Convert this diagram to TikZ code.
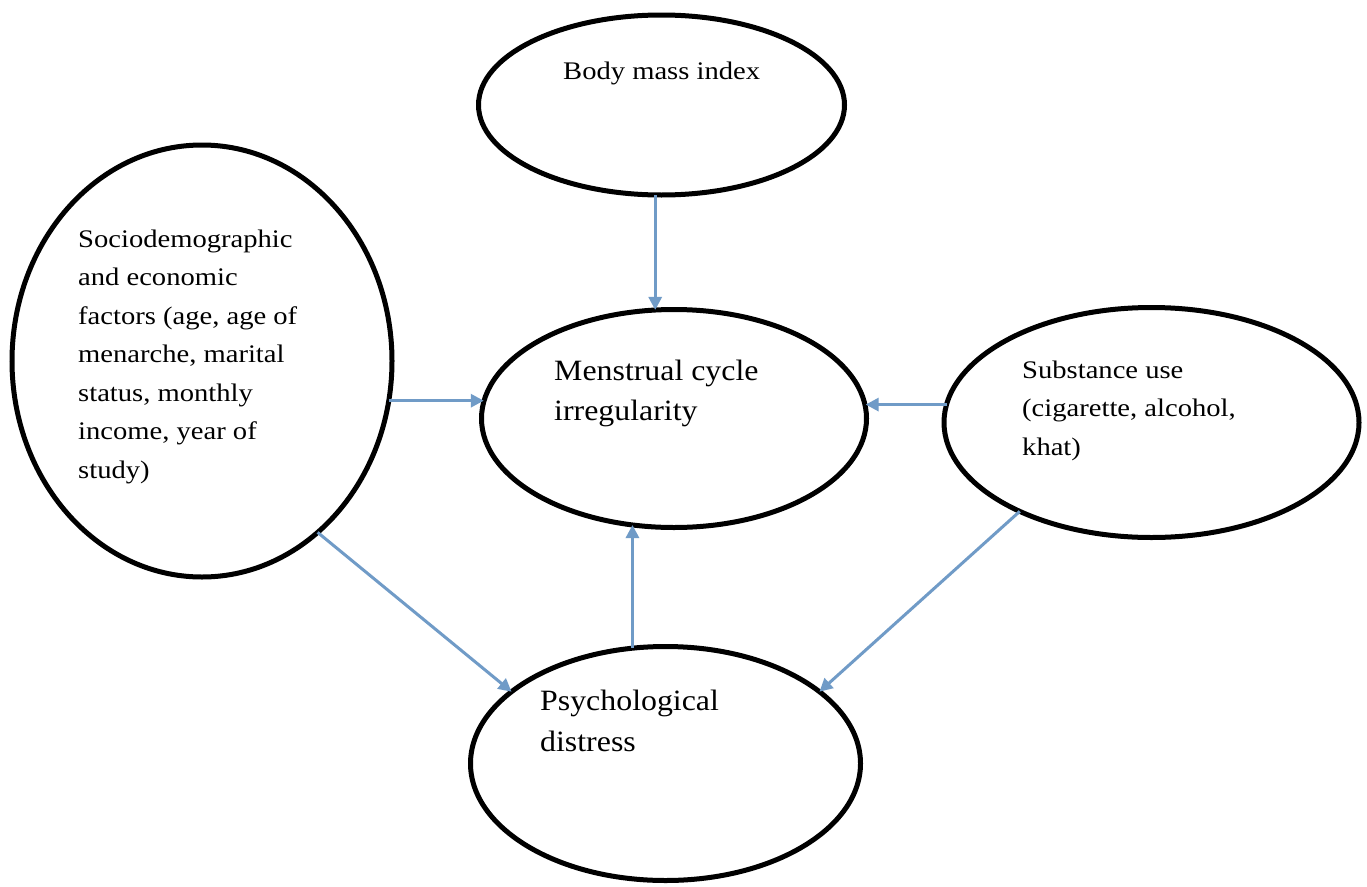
\documentclass[tikz,border=0pt]{standalone}
\usepackage{fontspec}
\setmainfont[FakeStretch=1.13]{Liberation Serif}
\newfontfamily\widefont[FakeStretch=1.08]{Liberation Serif}
\usetikzlibrary{shapes.geometric,arrows.meta}
\definecolor{arrowblue}{RGB}{112,155,199}
\tikzset{
  ell/.style={ellipse, draw=black, line width=5pt, inner sep=0pt, outer sep=0pt},
  lbl/.style={anchor=base west, inner sep=0pt, align=left,
              font=\fontsize{25.3}{38.5}\selectfont},
  biglbl/.style={anchor=base west, inner sep=0pt, align=left,
              font=\widefont\fontsize{29.5}{40.5}\selectfont},
  arr/.style={draw=arrowblue, line width=3pt,
              -{Triangle[length=13pt,width=13pt]}}
}
\begin{document}
\begin{tikzpicture}[x=1pt,y=-1pt]
\useasboundingbox (0,0) rectangle (1367,886);
\fill[white] (0,0) rectangle (1367,886);
% ellipses
\node[ell, minimum width=366pt, minimum height=180pt] (bmi) at (661.5,105) {};
\node[ell, minimum width=380pt, minimum height=432pt] (soc) at (202,361) {};
\node[ell, minimum width=385pt, minimum height=218pt] (men) at (674,418.5) {};
\node[ell, minimum width=415pt, minimum height=230pt] (sub) at (1151.5,422.5) {};
\node[ell, minimum width=390pt, minimum height=234pt] (psy) at (665.5,763.5) {};
% texts (anchor = baseline of the last line)
\node[lbl] (bmit) at (563,79) {Body mass index};
\node[lbl] (soct) at (78,478) {Sociodemographic\\and economic\\factors (age, age of\\menarche, marital\\status, monthly\\income, year of\\study)};
\node[biglbl] (ment) at (554,420.5) {Menstrual cycle\\irregularity};
\node[lbl] (subt) at (1022,455) {Substance use\\(cigarette, alcohol,\\khat)};
\node[biglbl] (psyt) at (540,751) {Psychological\\distress};
% connectors
\draw[arr] (bmi.-94.1) -- (bmi.-94.1 |- men.99.9);
\draw[arr] (soc.-12.4) -- (soc.-12.4 -| men.175);
\draw[arr] (sub.175.4) -- (sub.175.4 -| men.3.7);
\draw[arr] (psy.106.2) -- (psy.106.2 |- men.-111.5);
\draw[arr] (soc.-56.5) -- (psy.155.1);
\draw[arr] (sub.214.2) -- (psy.25.4);
\end{tikzpicture}
\end{document}
